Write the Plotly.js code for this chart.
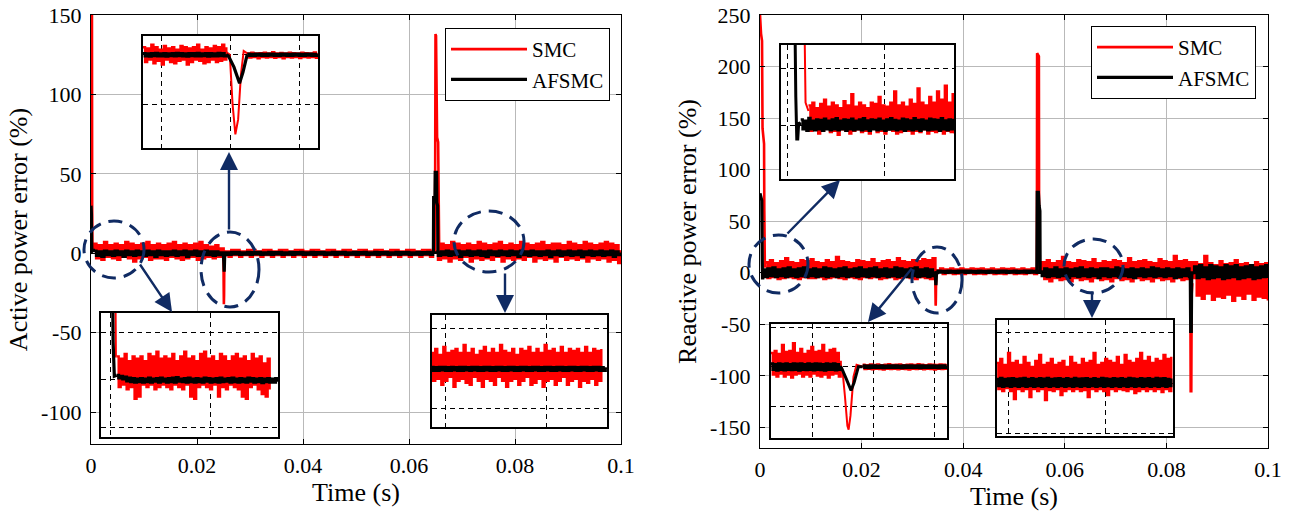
<!DOCTYPE html>
<html><head><meta charset="utf-8">
<script src="https://cdn.plot.ly/plotly-3.0.1.min.js"></script>
<style>html,body{margin:0;padding:0;background:#fff}#chart{width:1293px;height:513px}</style>
</head><body><div id="chart"></div>
<script>
// ---------------- DATA ----------------
const timeTickVals = [0, 0.02, 0.04, 0.06, 0.08, 0.1];
const timeTickText = ['0', '0.02', '0.04', '0.06', '0.08', '0.1'];
const activeTickVals = [-100, -50, 0, 50, 100, 150];
const activeTickText = ['-100', '-50', '0', '50', '100', '150'];
const reactiveTickVals = [-150, -100, -50, 0, 50, 100, 150, 200, 250];
const reactiveTickText = ['-150', '-100', '-50', '0', '50', '100', '150', '200', '250'];
const seriesNames = ['SMC', 'AFSMC'];

// main panels: samples every 0.0005 s from 0 to 0.1 s
const mainStep = 0.0005;
const activeSMCNoise = [3,6,-3,5,-4,7,-2,5,-3,6,
 -4,5,-2,7,-3,6,-5,5,-3,6,
 -2,7,-4,5,-3,6,-3,5,-4,6,
 -2,7,-3,5,-4,6,-3,5,-2,6,
 -4,7,-3,5,-2,4,-3,5,-2,3,
 -1,1,
 -2,2,-1,2,-2,1,-1,2,-2,2,
 -1,1,-2,2,-1,2,-2,1,-1,2,
 -2,2,-1,1,-2,2,-1,2,-2,1,
 -1,2,-2,2,-1,1,-2,2,-1,2,
 -2,1,-1,2,-2,2,-1,1,-2,2,
 -1,2,-2,1,-1,2,-2,2,-1,1,
 -2,2,-1,2,-2,1,-1,2,-2,2,
 -1,1,-2,2,-1,2,-2,1,
 1,
 -4,6,-3,5,-5,7,-3,6,-4,5,
 -2,6,-5,5,-3,7,-4,6,-3,5,
 -4,6,-2,7,-5,5,-3,6,-4,5,
 -3,7,-4,6,-2,5,-5,6,-3,7,
 -4,5,-3,6,-5,6,-2,5,-4,7,
 -3,6,-4,5,-3,7,-5,6,-3,5,
 -4,6,-3,7,-5,6,-4,5,-6,2];
const activeAFSMCNoise = [2,1.5,-1.5,1,-2,1.5,-1,1,-1.5,1.5,
 -1,1,-2,1.5,-1,1,-1.5,1.5,-1,1,
 -1.5,1.5,-1,1,-2,1.5,-1,1,-1.5,1,
 -1,1.5,-1.5,1,-1,1.5,-2,1,-1,1.5,
 -1.5,1,-1,1.5,-1,1,-1.5,1,-1,0.5,
 -1,0.5,
 -0.8,0.8,-0.5,0.8,-0.8,0.5,-0.6,0.8,-0.8,0.6,
 -0.5,0.8,-0.8,0.5,-0.6,0.8,-0.8,0.6,-0.5,0.8,
 -0.8,0.5,-0.6,0.8,-0.8,0.6,-0.5,0.8,-0.8,0.5,
 -0.6,0.8,-0.8,0.6,-0.5,0.8,-0.8,0.5,-0.6,0.8,
 -0.8,0.6,-0.5,0.8,-0.8,0.5,-0.6,0.8,-0.8,0.6,
 -0.5,0.8,-0.8,0.5,-0.6,0.8,-0.8,0.6,-0.5,0.8,
 -0.8,0.5,-0.6,0.8,-0.8,0.6,-0.5,0.8,-0.8,0.5,
 -0.6,0.8,-0.8,0.6,-0.5,0.8,-0.8,0.5,
 0.5,
 -1.5,1,-1,1.5,-1.5,1,-1,1.5,-2,1,
 -1,1.5,-1.5,1,-1,1.5,-1.5,1,-2,1.5,
 -1,1,-1.5,1.5,-1,1,-1.5,1.5,-1,1,
 -2,1.5,-1,1,-1.5,1.5,-1,1,-1.5,1,
 -1,1.5,-2,1,-1,1.5,-1.5,1,-1,1.5,
 -1.5,1,-1,1.5,-2,1,-1,1.5,-1.5,1,
 -1,1.5,-1.5,1,-1,1.5,-2,1,-1,0.5];
const reactiveSMCNoise = [null,null,
 10,-5,12,-4,9,-6,11,-5,14,-4,10,-5,9,-6,12,-4,11,-5,13,-5,
 10,-4,9,-6,12,-5,10,-4,15,-5,11,-6,10,-4,9,-5,12,-6,11,-4,
 10,-5,13,-4,9,-6,11,-5,12,-4,10,-6,14,-5,11,-4,10,-5,12,-6,
 11,-4,13,-5,12,-6,14,
 2,
 1,4,-1,3,0,4,-1,3,-0.5,4,
 -1,3,0,4,-1,3.5,-0.5,4,-1,3,
 0,4,-1,3,-0.5,4,-1,3.5,0,4,
 -1,3,-0.5,4,-1,3,0,4,-1,2,
 2,
 10,-6,12,-8,9,-5,11,-7,15,-6,10,-8,9,-5,12,-7,11,-6,10,-8,
 13,-5,9,-7,11,-6,10,-8,12,-5,11,-7,9,-6,14,-8,10,-5,11,-7,
 12,-6,10,-8,9,-5,13,-7,11,-6,10,-8,16,-5,11,-7,12,-6,10,
 -5,
 10,-22,8,-25,16,-20,9,-26,7,-23,11,-24,8,-21,9,-27,12,-22,8,-25,
 9,-20,7,-26,10,-23,8,-24,9,-27];
const reactiveAFSMCNoise = [null,
 3,-4,4,-3,5,-4,3,-3,4,-4,5,-3,3,-4,4,-3,5,-4,3,-3,
 4,-4,3,-3,5,-4,4,-3,3,-4,4,-3,5,-4,3,-3,4,-4,5,-3,
 3,-4,4,-3,5,-4,3,-3,4,-4,3,-3,5,-4,4,-3,3,-4,4,-3,
 5,-4,3,-3,4,-4,3,-3,
 0,
 1.8,0.3,1.6,0.2,1.9,0.4,1.5,0.2,1.8,0.3,1.7,0.1,1.9,0.4,1.6,0.2,1.8,0.3,1.5,0.2,
 1.8,0.4,1.6,0.1,1.9,0.3,1.7,0.2,1.5,0.4,1.8,0.2,1.6,0.3,1.9,0.1,1.7,0.4,1.6,0.2,
 1,
 -3,4,-4,3,-3,5,-4,3,-3,4,-5,3,-3,4,-4,5,-3,3,-4,4,
 -3,3,-5,4,-3,4,-4,3,-3,5,-4,4,-3,3,-4,4,-5,3,-3,4,
 -4,3,-3,5,-4,4,-3,3,-4,4,-3,3,-5,4,-4,3,-3,4,-4,
 0,
 6,-5,7,-4,5,-6,7,-5,6,-4,5,-6,7,-5,6,-4,7,-6,5,-5,
 6,-4,7,-6,5,-5,6,-4,7,-5];

// transient events (time s, value %)
const activeSMCStartT = [0, 0.00018, 0.00022, 0.00026, 0.0003];
const activeSMCStartV = [150, 150, 30, 5, 5];
const activeAFSMCStartT = [0, 0.00008, 0.00012, 0.00018, 0.0003];
const activeAFSMCStartV = [30, 25, 8, 0.8, 1];
const activeSMCDipT = [0.02494, 0.02499, 0.02503, 0.02507, 0.02511, 0.02515, 0.02519, 0.02524];
const activeSMCDipV = [1, 0, -20, -32, -26, -8, 1.5, 0.5];
const activeAFSMCDipT = [0.02494, 0.02497, 0.02505, 0.02513, 0.02518, 0.02524];
const activeAFSMCDipV = [0, -0.5, -5, -11.5, -7, 0];
const activeSMCSpikeT = [0.0649, 0.065, 0.0651, 0.0653, 0.0655, 0.0657];
const activeSMCSpikeV = [1, 138, 137, 73, 70, 0];
const activeAFSMCSpikeT = [0.0646, 0.06465, 0.0649, 0.06495, 0.0652, 0.06525, 0.0654, 0.06545];
const activeAFSMCSpikeV = [0, 35, 35, 51, 51, 32, 30, 0];

const reactiveSMCStartT = [0, 0.0002, 0.0004, 0.0005, 0.0008, 0.00085, 0.00095, 0.0011];
const reactiveSMCStartV = [250, 232, 225, 140, 125, 60, 8, 5];
const reactiveAFSMCStartT = [0, 0.00035, 0.0004, 0.00045, 0.0005, 0.00055, 0.0006, 0.0007];
const reactiveAFSMCStartV = [77, 70, 40, 10, -5, -5, 1, 0];
const reactiveSMCDipT = [0.03446, 0.03449, 0.03453, 0.03457, 0.03459, 0.03462, 0.03467, 0.03472, 0.03482];
const reactiveSMCDipV = [1, -2, -15, -30, -32, -25, -5, 1, 0];
const reactiveAFSMCDipT = [0.03446, 0.03448, 0.03455, 0.03463, 0.03468, 0.03475, 0.03482];
const reactiveAFSMCDipV = [0, -1, -6, -12, -8, 0, 0];
const reactiveSMCSpikeT = [0.0545, 0.05455, 0.0549, 0.05495, 0.0551];
const reactiveSMCSpikeV = [2, 213, 210, 10, 3];
const reactiveAFSMCSpikeT = [0.0545, 0.05458, 0.0548, 0.05495, 0.0551, 0.05515];
const reactiveAFSMCSpikeV = [0, 78, 78, 65, 60, 0];
const reactiveSMCDropT = [0.0847, 0.08478, 0.0849, 0.08498, 0.0851];
const reactiveSMCDropV = [2, -115, -115, -20, -10];
const reactiveAFSMCDropT = [0.0847, 0.08478, 0.0849, 0.08498, 0.0851];
const reactiveAFSMCDropV = [0, -57, -57, -2, 0];

// zoomed views (insets)
const activeZoomDipStart = 0.02374, activeZoomDipStep = 0.00003;
const activeZoomDipSMC = [3,-3,2.5,-2,4,-3.5,3,-2.5,2,-4,
 3.5,-2,2.5,-3,3,-3.5,2,-2.5,3.5,-2,
 3,-4,2.5,-3,3,-2,4,-2.5,2,-3.5,
 3,-3,2.5,-2,3.5,-3,3,-2.5,4,-2,3,
 null,null,null,null,null,null,null,null,null,
 0.5,-1.2,0.8,-1,0.5,-1.5,0.6,-1,0.8,-1.2,
 0.5,-1,1,-1.3,0.5,-1,0.7,-1.5,0.5,-1,
 0.8,-1.2,0.6,-1,0.5,-1.4,0.8,-1,0.6,-1.2,
 0.5,-1,0.9,-1.3,0.6];
const activeZoomDipAFSMC = [0.5,-0.5,0.4,-0.6,0.5,-0.4,0.6,-0.5,0.4,-0.5,
 0.5,-0.6,0.4,-0.4,0.5,-0.5,0.6,-0.4,0.5,-0.5,
 0.4,-0.6,0.5,-0.4,0.5,-0.5,0.6,-0.5,0.4,-0.4,
 0.5,-0.6,0.5,-0.5,0.4,-0.5,0.6,-0.4,0.5,-0.5,0.2,
 null,null,null,null,null,null,null,null,null,
 0.3,-0.3,0.2,-0.3,0.3,-0.2,0.3,-0.3,0.2,-0.3,
 0.3,-0.2,0.3,-0.3,0.2,-0.3,0.3,-0.2,0.3,-0.3,
 0.2,-0.3,0.3,-0.2,0.3,-0.3,0.2,-0.3,0.3,-0.2,
 0.3,-0.3,0.2,-0.3,0.3];

const activeZoomStartStart = 0.0003, activeZoomStartStep = 0.0001;
const activeZoomStartSMC = [5,-1.5,4.5,-1,5.5,-2,4,-1.5,5,-4,4.5,-3.5,5,-1,4,-1.5,5.5,-1,
 5,-2,6,-1.5,4.5,-1,5,-1.5,4.5,-2,5.5,-1,4,-1.5,5,-2,6,-1,
 4.5,-3.5,5,-4,4,-1.5,5.5,-1,6,-1.5,4.5,-2,5,-1,4,-3.5,5.5,-1.5,5,-2,
 4,-1,5,-1.5,5.5,-2,4.5,-3.5,5,-4,4,-1.5,5.5,-1,4.5,-2,5,-3,3.5,-3.5,4.5,-2];
const activeZoomStartAFSMC = [1,0.4,0.8,0.2,0.6,-0.2,0.4,-0.4,0.3,-0.5,0.2,-0.4,0.3,-0.5,0.2,-0.4,0.4,-0.5,0.2,-0.3,
 0.3,-0.5,0.4,-0.3,0.2,-0.5,0.3,-0.4,0.4,-0.5,0.5,-0.3,0.2,-0.4,0.3,-0.5,0.4,-0.4,0.2,-0.5,
 0.3,-0.4,0.2,-0.5,0.4,-0.3,0.3,-0.5,0.2,-0.4,0.3,-0.5,0.4,-0.4,0.2,-0.3,0.3,-0.5,0.4,-0.4,
 0.2,-0.5,0.3,-0.4,0.2,-0.5,0.4,-0.3,0.3,-0.5,0.2,-0.4,0.3,-0.6,0.2,-0.4,0.3,-0.5,0.2,-0.5,0.3,-0.4];

const activeZoomEndStart = 0.0693, activeZoomEndStep = 0.0001;
const activeZoomEndSMC = [4,-3,5,-2.5,3.5,-4,5.5,-3,4,-2,4.5,-4.5,5,-3,4,-2.5,6,-3.5,
 4,-4,5,-2,3.5,-3,4.5,-4.5,5.5,-2.5,4,-3,5,-4,4,-2,6,-3,4.5,-4.5,
 4,-3,5,-2.5,3.5,-4,5,-3,4.5,-2,5.5,-4,4,-3.5,5,-2.5,4,-4.5,6,-3,
 4.5,-2.5,5,-4,4,-3,5.5,-2,4,-4,5,-3,4.5,-2.5,5,-4.5,4,-3,5.5,-3.5,
 4,-2.5,5,-4,4.5,-3,5];
const activeZoomEndAFSMC = [0.4,-0.4,0.3,-0.4,0.4,-0.3,0.4,-0.4,0.3,-0.4,
 0.4,-0.3,0.3,-0.4,0.4,-0.4,0.4,-0.3,0.3,-0.4,
 0.4,-0.3,0.4,-0.4,0.3,-0.4,0.4,-0.3,0.4,-0.4,
 0.3,-0.4,0.4,-0.3,0.4,-0.4,0.3,-0.4,0.4,-0.3,
 0.4,-0.4,0.3,-0.4,0.4,-0.3,0.4,-0.4,0.3,-0.4,
 0.4,-0.3,0.4,-0.4,0.3,-0.4,0.4,-0.3,0.4,-0.4,
 0.3,-0.4,0.4,-0.3,0.4,-0.4,0.3,-0.4,0.4,-0.3,
 0.4,-0.4,0.3,-0.4,0.4,-0.3,0.4,-0.4,0.3,-0.4,
 0.4,-0.3,0.4,-0.4,0.3,-0.4,0.4];

const reactiveZoomStartStep = 0.0001;
const reactiveZoomStartSMCStart = 0.0011;
const reactiveZoomStartSMC = [7,-2,8,-1.5,6,-3,7.5,-2,9,-1,6.5,-2.5,8,-2,7,-3.5,6,-1.5,8.5,-2,
 7,-3,11,-2,6.5,-1.5,8,-2.5,7,-2,6,-3,8,-1,7.5,-2.5,10,-2,7,-3,
 6.5,-1.5,8,-2,12,-3,7,-2.5,8,-1.5,6.5,-2,9,-3,7.5,-2,13,-2.5,8,-1.5,
 7,-3,10,-2,8,-2.5,12,-1.5,9,-3,14,-2,8,-2.5,11,-3];
const reactiveZoomStartAFSMCStart = 0.0007;
const reactiveZoomStartAFSMC = [2,-1.5,1.5,-2,2.5,-1.5,1.5,-1.8,2,-1.5,
 1.8,-2,2.2,-1.5,1.5,-1.8,2,-1.5,2.4,-1.8,
 1.5,-1.5,2,-2,1.8,-1.5,2.2,-1.8,1.5,-1.5,
 2,-1.8,2.4,-1.5,1.6,-2,2,-1.5,1.8,-1.8,
 2.2,-1.5,1.5,-2,2,-1.6,2.4,-1.5,1.8,-1.8,
 1.5,-1.5,2.2,-2,2,-1.5,1.6,-1.8,2.4,-1.5,
 1.8,-2,2,-1.5,1.5,-1.8,2.2,-1.6,2,-1.5,
 1.8,-2,2.4,-1.5,1.6,-1.8,2,-1.5,1.8,-1.7];

const reactiveZoomDipStart = 0.03332, reactiveZoomDipStep = 0.00003;
const reactiveZoomDipSMC = [7,-4,8,-5,6.5,-3.5,11,-5,7.5,-4,8,-5.5,12,-4,7,-3.5,9,-5,6.5,-4,
 8,-5,10,-3.5,7.5,-4.5,8,-5,11,-4,7,-5.5,8.5,-4,9,-3.5,7,-5,3,
 null,null,null,null,null,null,null,null,null,null,null,
 1,-1.2,0.8,-1,1.2,-1.3,0.9,-1,1.1,-1.2,
 0.8,-1.4,1,-1,1.3,-1.2,0.9,-1.1,1,-1.3,
 1.2,-1,0.8,-1.2,1,-1.4,1.1,-1,0.9,-1.2,
 1.3,-1.1,1,-1.3,0.8,-1,1.2,-1.2,1,-1.4,
 0.9,-1,1.1,-1.2,1,-1.1,1.2];
const reactiveZoomDipAFSMC = [1.5,-1.5,1.2,-1.8,1.6,-1.4,1.3,-1.7,1.5,-1.5,
 1.2,-1.6,1.6,-1.4,1.4,-1.8,1.5,-1.5,1.2,-1.6,
 1.6,-1.4,1.3,-1.7,1.5,-1.5,1.4,-1.6,1.2,-1.8,
 1.6,-1.4,1.3,-1.5,1.5,-1.7,1.2,-1.5,0.5,
 null,null,null,null,null,null,null,null,null,null,null,
 0.5,-0.5,0.4,-0.6,0.5,-0.4,0.6,-0.5,0.4,-0.5,
 0.5,-0.6,0.4,-0.4,0.5,-0.5,0.6,-0.4,0.5,-0.5,
 0.4,-0.6,0.5,-0.4,0.5,-0.5,0.6,-0.5,0.4,-0.4,
 0.5,-0.6,0.5,-0.5,0.4,-0.5,0.6,-0.4,0.5,-0.5,
 0.4,-0.6,0.5,-0.4,0.5,-0.5,0.4];

const reactiveZoomEndStart = 0.0644, reactiveZoomEndStep = 0.0001;
const reactiveZoomEndSMC = [10,-3,12,-4,9,-2.5,15,-4,10,-8,11,-3,9,-4,13,-3,10,-7,8,-3,
 11,-4,14,-3,9,-8.5,10,-3.5,12,-4,9,-3,10,-6,11,-4,8,-3,13,-4,
 10,-3,9,-4,12,-3.5,10,-7,11,-3,15,-4,9,-3,10,-4,12,-6,11,-3,
 10,-4,13,-3,9,-3.5,14,-4,11,-3,10,-5,12,-4,15,-3,11,-4,13,-3,
 10,-4,12,-3,11,-4.5,14,-3,12,-4,13];
const reactiveZoomEndAFSMC = [2,-1.5,2.5,-1.8,2,-1.5,2.2,-1.8,2.4,-1.5,
 2,-1.8,2.2,-1.5,2.5,-1.8,2,-1.5,2.3,-1.8,
 2,-1.5,2.4,-1.8,2.1,-1.5,2.5,-1.8,2,-1.5,
 2.2,-1.8,2.4,-1.5,2,-1.8,2.3,-1.5,2,-1.8,
 2.5,-1.5,2.1,-1.8,2.2,-1.5,2.4,-1.8,2,-1.5,
 2.3,-1.8,2,-1.5,2.5,-1.8,2.2,-1.5,2,-1.8,
 2.4,-1.5,2.1,-1.8,2.3,-1.5,2,-1.8,2.5,-1.5,
 2.2,-1.8,2,-1.5,2.4,-1.8,2.1,-1.5,2.3,-1.8,
 2,-1.5,2.5,-1.8,2.2,-1.5,2.4,-1.8,2,-1.5,2.2];

// ---------------- LAYOUT HELPERS ----------------
const W = 1293, H = 513;
const RED = '#ff0000', BLACK = '#000000', NAVY = '#102b63';
const FONT = 'Liberation Serif, Times New Roman, serif';
function domX(a, b) { return [a / W, b / W]; }
function domY(top, bottom) { return [1 - bottom / H, 1 - top / H]; }
function px(x) { return x / W; }
function py(y) { return 1 - y / H; }

// noisy switching signal: drawn sample-and-hold so dense samples merge into a band
function noiseTrace(ax, x0, step, vals, color, width) {
  return {type: 'scatter', mode: 'lines', x0: x0, dx: step, y: vals,
    xaxis: 'x' + ax, yaxis: 'y' + ax, line: {color: color, width: width, shape: 'hv', simplify: false},
    showlegend: false, hoverinfo: 'skip', connectgaps: false};
}
function eventTrace(ax, segs, color, width, name, legend) {
  let xs = [], ys = [];
  segs.forEach((s, i) => { if (i) { xs.push(null); ys.push(null); } xs = xs.concat(s[0]); ys = ys.concat(s[1]); });
  const t = {type: 'scatter', mode: 'lines', x: xs, y: ys, xaxis: 'x' + ax, yaxis: 'y' + ax,
    line: {color: color, width: width, simplify: false}, hoverinfo: 'skip', connectgaps: false,
    showlegend: !!legend, name: name};
  if (legend) t.legend = legend;
  return t;
}

const traces = [
  noiseTrace('', 0, mainStep, activeSMCNoise, RED, 2.8),
  eventTrace('', [[activeSMCStartT, activeSMCStartV], [activeSMCDipT, activeSMCDipV], [activeSMCSpikeT, activeSMCSpikeV]], RED, 2.6, seriesNames[0], 'legend'),
  noiseTrace('', 0, mainStep, activeAFSMCNoise, BLACK, 2.8),
  eventTrace('', [[activeAFSMCStartT, activeAFSMCStartV], [activeAFSMCDipT, activeAFSMCDipV], [activeAFSMCSpikeT, activeAFSMCSpikeV]], BLACK, 3.2, seriesNames[1], 'legend'),
  noiseTrace('2', 0, mainStep, reactiveSMCNoise, RED, 2.8),
  eventTrace('2', [[reactiveSMCStartT, reactiveSMCStartV], [reactiveSMCDipT, reactiveSMCDipV], [reactiveSMCSpikeT, reactiveSMCSpikeV], [reactiveSMCDropT, reactiveSMCDropV]], RED, 2.6, seriesNames[0], 'legend2'),
  noiseTrace('2', 0, mainStep, reactiveAFSMCNoise, BLACK, 2.8),
  eventTrace('2', [[reactiveAFSMCStartT, reactiveAFSMCStartV], [reactiveAFSMCDipT, reactiveAFSMCDipV], [reactiveAFSMCSpikeT, reactiveAFSMCSpikeV], [reactiveAFSMCDropT, reactiveAFSMCDropV]], BLACK, 3.2, seriesNames[1], 'legend2'),
  noiseTrace('3', activeZoomDipStart, activeZoomDipStep, activeZoomDipSMC, RED, 2.4),
  eventTrace('3', [[activeSMCDipT, activeSMCDipV]], RED, 2),
  noiseTrace('3', activeZoomDipStart, activeZoomDipStep, activeZoomDipAFSMC, BLACK, 3),
  eventTrace('3', [[activeAFSMCDipT, activeAFSMCDipV]], BLACK, 3.2),
  noiseTrace('4', activeZoomStartStart, activeZoomStartStep, activeZoomStartSMC, RED, 2.4),
  eventTrace('4', [[activeSMCStartT, activeSMCStartV]], RED, 2),
  noiseTrace('4', activeZoomStartStart, activeZoomStartStep, activeZoomStartAFSMC, BLACK, 3),
  eventTrace('4', [[activeAFSMCStartT, activeAFSMCStartV]], BLACK, 3.2),
  noiseTrace('5', activeZoomEndStart, activeZoomEndStep, activeZoomEndSMC, RED, 2.4),
  noiseTrace('5', activeZoomEndStart, activeZoomEndStep, activeZoomEndAFSMC, BLACK, 3),
  noiseTrace('6', reactiveZoomStartSMCStart, reactiveZoomStartStep, reactiveZoomStartSMC, RED, 2.4),
  eventTrace('6', [[reactiveSMCStartT, reactiveSMCStartV]], RED, 2),
  noiseTrace('6', reactiveZoomStartAFSMCStart, reactiveZoomStartStep, reactiveZoomStartAFSMC, BLACK, 2.6),
  eventTrace('6', [[reactiveAFSMCStartT, reactiveAFSMCStartV]], BLACK, 3),
  noiseTrace('7', reactiveZoomDipStart, reactiveZoomDipStep, reactiveZoomDipSMC, RED, 2.4),
  eventTrace('7', [[reactiveSMCDipT, reactiveSMCDipV]], RED, 2),
  noiseTrace('7', reactiveZoomDipStart, reactiveZoomDipStep, reactiveZoomDipAFSMC, BLACK, 2.8),
  eventTrace('7', [[reactiveAFSMCDipT, reactiveAFSMCDipV]], BLACK, 3),
  noiseTrace('8', reactiveZoomEndStart, reactiveZoomEndStep, reactiveZoomEndSMC, RED, 2.4),
  noiseTrace('8', reactiveZoomEndStart, reactiveZoomEndStep, reactiveZoomEndAFSMC, BLACK, 2.6)
];

function mainX(dom, anchor) {
  return {domain: dom, anchor: anchor, range: [0, 0.1], tickvals: timeTickVals, ticktext: timeTickText,
    ticks: 'inside', ticklen: 5, tickcolor: '#000', showline: true, linecolor: '#000', linewidth: 1.2,
    mirror: 'ticks', showgrid: true, gridcolor: '#b9b9b9', gridwidth: 1, zeroline: false,
    tickfont: {size: 22, family: FONT, color: '#000'}, ticklabelstandoff: 1,
    title: {text: 'Time (s)', font: {size: 26, family: FONT, color: '#000'}, standoff: 2}};
}
function mainY(dom, anchor, range, vals, text, title, standoff) {
  return {domain: dom, anchor: anchor, range: range, tickvals: vals, ticktext: text,
    ticks: 'inside', ticklen: 5, tickcolor: '#000', showline: true, linecolor: '#000', linewidth: 1.2,
    mirror: 'ticks', showgrid: true, gridcolor: '#b9b9b9', gridwidth: 1, zeroline: false,
    tickfont: {size: 22, family: FONT, color: '#000'}, ticklabelstandoff: 4,
    title: {text: title, font: {size: 26, family: FONT, color: '#000'}, standoff: standoff}};
}
function insetAxis(dom, anchor, range, vals) {
  return {domain: dom, anchor: anchor, range: range, tickvals: vals, showticklabels: false, ticks: '',
    showline: true, linecolor: '#000', linewidth: 2, mirror: true, showgrid: true, gridcolor: '#000',
    gridwidth: 1, griddash: '5px,4px', zeroline: false, fixedrange: true};
}

const legendStyle = {xanchor: 'left', yanchor: 'top', bgcolor: '#fff', bordercolor: '#000',
  borderwidth: 1, font: {size: 21, family: FONT, color: '#000'}, itemwidth: 76, tracegroupgap: 0};

const layout = {
  width: W, height: H, margin: {l: 0, r: 0, t: 0, b: 0}, paper_bgcolor: '#fff', plot_bgcolor: '#fff',
  font: {family: FONT, color: '#000'}, showlegend: true, hovermode: false,
  xaxis: mainX(domX(91, 621), 'y'),
  yaxis: mainY(domY(15, 444), 'x', [-120, 150], activeTickVals, activeTickText, 'Active power error (%)', 6),
  xaxis2: mainX(domX(760, 1268), 'y2'),
  yaxis2: mainY(domY(15, 448), 'x2', [-170, 250], reactiveTickVals, reactiveTickText, 'Reactive power error (%)', 6),
  xaxis3: insetAxis(domX(143, 318), 'y3', [0.02374, 0.02626], [0.024, 0.025, 0.026]),
  yaxis3: insetAxis(domY(36, 148), 'x3', [-37.5, 7.5], [-20, 0]),
  xaxis4: insetAxis(domX(101, 278), 'y4', [-0.00049, 0.00842], [0, 0.005]),
  yaxis4: insetAxis(domY(313, 437), 'x4', [-12.1, 14.2], [-10, 0, 10]),
  xaxis5: insetAxis(domX(432, 607), 'y5', [0.06934, 0.07798], [0.07, 0.075]),
  yaxis5: insetAxis(domY(315, 427), 'x5', [-14.6, 13.5], [-10, 0, 10]),
  xaxis6: insetAxis(domX(781, 954), 'y6', [-0.00031, 0.00857], [0, 0.005]),
  yaxis6: insetAxis(domY(45, 179), 'x6', [-19.2, 28.5], [0, 20]),
  xaxis7: insetAxis(domX(771, 947), 'y7', [0.03332, 0.0362], [0.034, 0.035, 0.036]),
  yaxis7: insetAxis(domY(324, 438), 'x7', [-36.2, 21.7], [-20, 0, 20]),
  xaxis8: insetAxis(domX(997, 1173), 'y8', [0.06443, 0.07349], [0.065, 0.07]),
  yaxis8: insetAxis(domY(320, 436), 'x8', [-26.3, 31.3], [-25, 0, 25]),
  legend: Object.assign({x: px(445), y: py(28)}, legendStyle),
  legend2: Object.assign({x: px(1091), y: py(26)}, legendStyle),
  shapes: [],
  annotations: []
};

// dashed ellipses marking zoomed regions (pixel boxes: left, top, right, bottom)
const ellipseBoxes = [[84, 221, 144, 278], [201, 232, 259, 307], [454, 211, 524, 272],
  [749, 235, 808, 293], [912, 247, 962, 313], [1064, 239, 1123, 293]];
ellipseBoxes.forEach(b => layout.shapes.push({type: 'circle', xref: 'paper', yref: 'paper',
  x0: px(b[0]), x1: px(b[2]), y0: py(b[3]), y1: py(b[1]),
  line: {color: NAVY, width: 3, dash: '14px,8px'}}));

// arrows (tail x, tail y, head x, head y) in pixels
const arrowSpecs = [[139, 263, 172, 312], [229, 231, 229, 152], [505, 272, 505, 313],
  [786, 235, 840, 180], [913, 267, 868, 322], [1092, 290, 1092, 318]];
arrowSpecs.forEach(a => layout.annotations.push({xref: 'paper', yref: 'paper', x: px(a[2]), y: py(a[3]),
  ax: a[0] - a[2], ay: a[1] - a[3], axref: 'pixel', ayref: 'pixel', text: '', showarrow: true,
  arrowhead: 2, arrowsize: 1.5, arrowwidth: 2.4, arrowcolor: NAVY, standoff: 0, startstandoff: 0}));

Plotly.newPlot('chart', traces, layout, {staticPlot: true, displayModeBar: false});
</script></body></html>
